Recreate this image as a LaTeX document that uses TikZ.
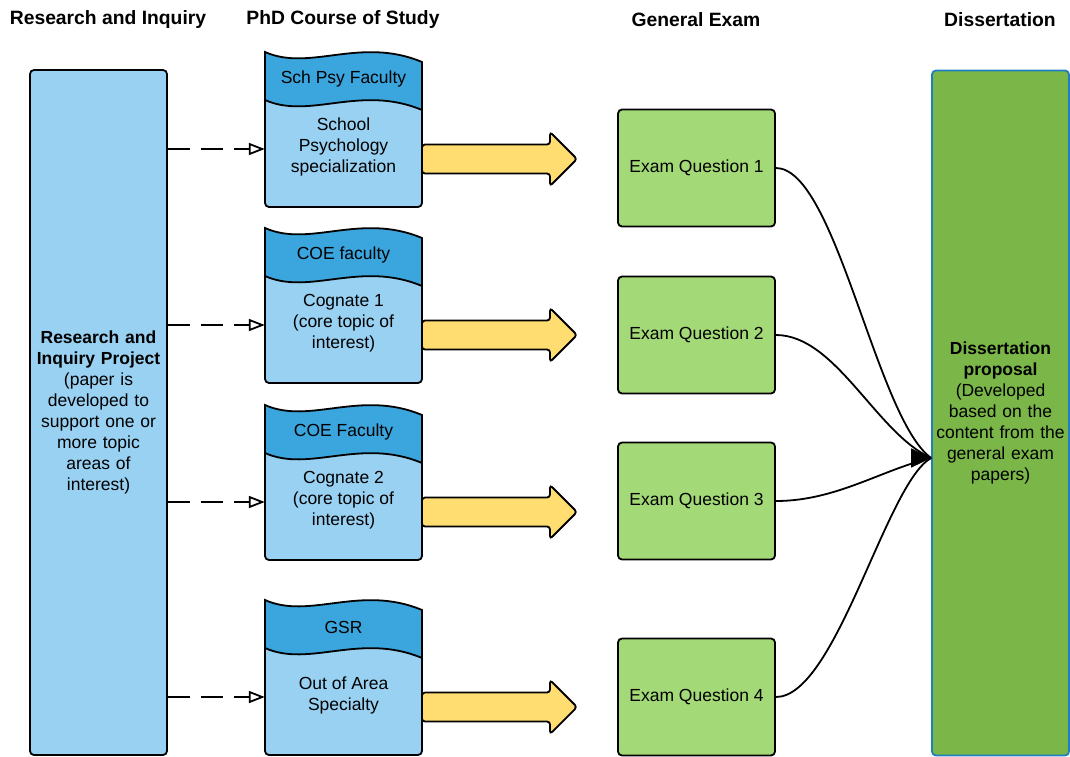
\documentclass[tikz,border=0pt]{standalone}
\usepackage{fontspec}
\setmainfont{Liberation Sans}
\usetikzlibrary{positioning,calc,arrows.meta}
\definecolor{paleblue}{HTML}{99D1F2}
\definecolor{midblue}{HTML}{3BA5DD}
\definecolor{paleyellow}{HTML}{FFDD71}
\definecolor{palegreen}{HTML}{A3D977}
\definecolor{darkgreen}{HTML}{7AB648}
\definecolor{edgeblue}{HTML}{1F7EC1}
\tikzset{>=stealth}
\newcommand*{\bodyfont}{\fontsize{17.5}{21}\selectfont}

\begin{document}
\begin{tikzpicture}[x=1pt,y=-1pt,
  head/.style={font=\fontsize{19.3}{22}\selectfont\bfseries},
  tallbox/.style={draw,line width=1.8pt,rounded corners=4pt,minimum width=137pt,
    minimum height=685pt,align=center,text width=125pt,font=\bodyfont},
  exambox/.style={draw,line width=1.8pt,rounded corners=4pt,fill=palegreen,
    minimum width=157pt,minimum height=117pt,font=\bodyfont},
  docframe/.style={minimum width=157pt,minimum height=155pt,inner sep=0pt},
  dasharrow/.style={line width=1.8pt,dash pattern=on 22pt off 11pt,
    -{Triangle[open,length=16pt,width=12pt]}},
  bigarrow/.style={draw,line width=1.8pt,fill=paleyellow,rounded corners=3pt},
  curvelink/.style={line width=1.8pt},
  curvearrow/.style={line width=1.8pt,-{Triangle[length=20pt,width=19pt]}}]
\useasboundingbox (0,0) rectangle (1070,756);
% Column headings
\node[head] (hres) at (108,19.5) {Research and Inquiry};
\node[head] (hphd) at (343,19.5) {PhD Course of Study};
\node[head] (hexam) at (696,19.5) {General Exam};
\node[head] (hdiss) at (1000,19.5) {Dissertation};
% Outer columns
\node[tallbox,fill=paleblue] (research) at (98.5,412.5)
  {\textbf{Research and}\\\textbf{Inquiry Project}\\(paper is\\developed to\\support one or\\more topic\\areas of\\interest)};
\node[tallbox,text width=135pt,inner xsep=1pt,fill=darkgreen,draw=edgeblue] (diss) at (1000.5,413)
  {\textbf{Dissertation}\\\textbf{proposal}\\(Developed\\based on the\\content from the\\general exam\\papers)};
\coordinate (meet) at (diss.west |- 0,458);
\coordinate (tipbase) at ($(meet)+(-20,0)$);
% One row per course of study
\foreach \i/\tp/\hd/\bd/\ey in {1/52/{Sch Psy Faculty}/{School\\Psychology\\specialization}/168,
    2/228/{COE faculty}/{Cognate 1\\(core topic of\\interest)}/335,
    3/405/{COE Faculty}/{Cognate 2\\(core topic of\\interest)}/501,
    4/600/{GSR}/{Out of Area\\Specialty}/697} {
  \node[docframe] (doc\i) at (343.5,\tp+77.5) {};
  % document shape with wavy header
  \fill[paleblue] (265,\tp) .. controls (310,\tp+20) and (360,\tp-16) .. (422,\tp+10)
    -- (422,\tp+100) [rounded corners=4pt] -- (422,\tp+155) -- (265,\tp+155)
    -- (265,\tp+100) [sharp corners] -- cycle;
  \fill[midblue] (265,\tp) .. controls (310,\tp+20) and (360,\tp-16) .. (422,\tp+10)
    -- (422,\tp+58) .. controls (360,\tp+32) and (310,\tp+68) .. (265,\tp+48) -- cycle;
  \draw[line width=1.8pt] (265,\tp+48) .. controls (310,\tp+68) and (360,\tp+32) .. (422,\tp+58);
  \draw[line width=1.8pt] (265,\tp) .. controls (310,\tp+20) and (360,\tp-16) .. (422,\tp+10)
    -- (422,\tp+100) [rounded corners=4pt] -- (422,\tp+155) -- (265,\tp+155)
    -- (265,\tp+100) [sharp corners] -- cycle;
  \node[font=\bodyfont] (hdr\i) at (343.5,\tp+27) {\hd};
  \node[font=\bodyfont,align=center] (body\i) at (343.5,\tp+95) {\bd};
  % links
  \draw[dasharrow] (research.east |- 0,\tp+97) -- (doc\i.west |- 0,\tp+97);
  \draw[bigarrow] (422,\tp+92.5) -- (550,\tp+92.5) -- (550,\tp+80) -- (577,\tp+107)
    -- (550,\tp+134) -- (550,\tp+121.5) -- (422,\tp+121.5) -- cycle;
  \node[exambox] (exam\i) at (696.5,\ey) {Exam Question \i};
}
% Exam questions feed the proposal
\draw[curvelink] (exam1.east) .. controls +(60,0) and +(-55,-40) .. (meet);
\draw[curvelink] (exam2.east) .. controls +(60,0) and +(-55,-25) .. (meet);
\draw[curvelink] (exam3.east) .. controls +(60,0) and +(-50,12) .. (meet);
\draw[curvelink] (exam4.east) .. controls +(60,0) and +(-45,25) .. (meet);
\draw[curvearrow] (tipbase) -- (meet);
\end{tikzpicture}
\end{document}
